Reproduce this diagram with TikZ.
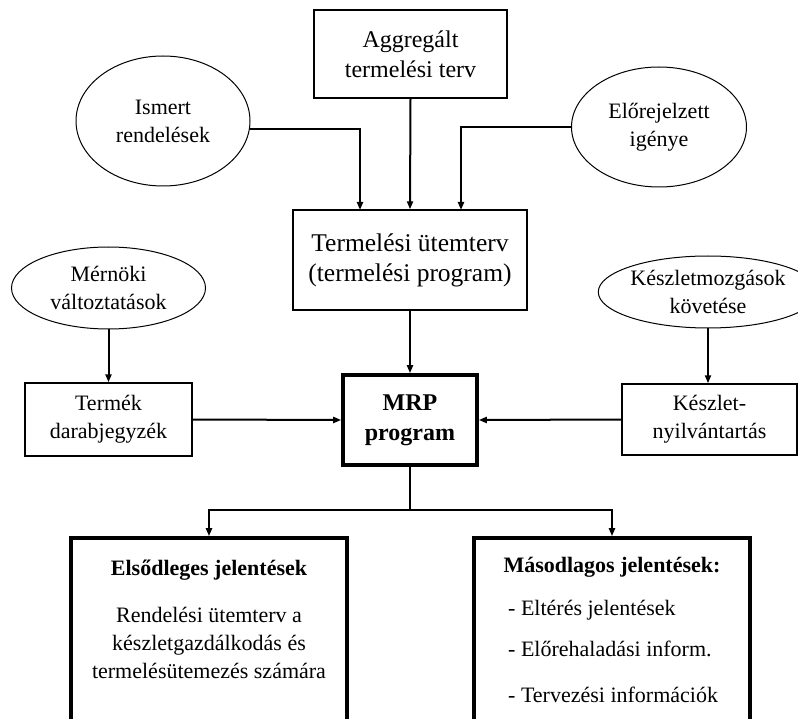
\documentclass[tikz,border=0pt]{standalone}
\usepackage{fontspec}
\setmainfont{Liberation Serif}
\usetikzlibrary{shapes.geometric,arrows.meta}

\newcommand\fbig{\fontsize{24}{30}\selectfont}
\newcommand\fplan{\fontsize{25.5}{30}\selectfont}
\newcommand\fmid{\fontsize{22}{28}\selectfont}

\tikzset{
  box/.style={draw, line width=1.4pt, inner sep=0pt, align=center, font=\fbig},
  heavybox/.style={draw, line width=3.6pt, inner sep=0pt, align=center},
  oval/.style={ellipse, draw, line width=1pt, inner sep=0pt, align=center, font=\fmid},
  link/.style={line width=2pt},
  arr/.style={line width=2pt, -{Triangle[length=8pt,width=6pt]}},
  txt/.style={inner sep=0pt, anchor=base, font=\fmid},
}

\begin{document}
\begin{tikzpicture}[x=1pt,y=-1pt]
\fill[white] (0,0) rectangle (798,719);
\clip (0,0) rectangle (798,719);

% inputs of the master schedule
\node[box, minimum width=193pt, minimum height=88pt] (agg) at (410.5,54) {Aggregált\\termelési terv};
\node[oval, minimum width=174pt, minimum height=130pt] (ism) at (163,121) {Ismert\\rendelések};
\node[oval, minimum width=175pt, minimum height=120pt] (elo) at (659,127) {Előrejelzett\\igénye};
\node[box, font=\fplan, minimum width=234pt, minimum height=100pt] (tp) at (410,260) {Termelési ütemterv\\(termelési program)};

% side inputs
\node[oval, minimum width=194pt, minimum height=82pt] (mer) at (108.5,288) {Mérnöki\\változtatások};
\node[box, font=\fmid, minimum width=167pt, minimum height=73pt] (ter) at (108.5,419.5) {Termék\\darabjegyzék};
\node[oval, minimum width=180pt, minimum height=72pt] (kmo) at (708,292) {Készletmozgások\\követése};
\node[box, font=\fmid, minimum width=175pt, minimum height=71pt] (kny) at (709.5,419.5) {Készlet-\\nyilvántartás};

% central program
\node[heavybox, font=\fbig\bfseries, minimum width=134pt, minimum height=90pt] (mrp) at (410,420) {MRP\\program};

% output reports
\node[heavybox, minimum width=276pt, minimum height=186pt] (els) at (209,631) {};
\node[heavybox, minimum width=276pt, minimum height=186pt] (mas) at (612,631) {};

\node[txt, font=\fmid\bfseries] (elsh) at (209,575) {Elsődleges jelentések};
\node[txt] (els1) at (209,622) {Rendelési ütemterv a};
\node[txt] (els2) at (209,650) {készletgazdálkodás és};
\node[txt] (els3) at (209,678) {termelésütemezés számára};

\node[txt, font=\fmid\bfseries] (mash) at (612,572) {Másodlagos jelentések:};
\node[txt, anchor=base west] (mas1) at (508,615) {- Eltérés jelentések};
\node[txt, anchor=base west] (mas2) at (508,656) {- Előrehaladási inform.};
\node[txt, anchor=base west] (mas3) at (508,702) {- Tervezési információk};

% connectors
\coordinate (tpL) at (360,210);
\coordinate (tpR) at (461,210);
\draw[arr] (agg.south) -- (tp.north);
\draw[arr] (ism.-5) -| (tpL);
\draw[arr] (elo.west) -| (tpR);
\draw[arr] (tp.south) -- (mrp.north);
\draw[arr] (mer.south) -- (ter.north);
\draw[arr] (kmo.south) -- (kmo.south |- kny.north);
\draw[arr] (ter.east) -- (mrp.west);
\draw[arr] (kny.west) -- (mrp.east);

\coordinate (split) at (410,510);
\draw[link] (mrp.south) -- (split);
\draw[arr] (split) -| (els.north);
\draw[arr] (split) -| (mas.north);
\end{tikzpicture}
\end{document}
